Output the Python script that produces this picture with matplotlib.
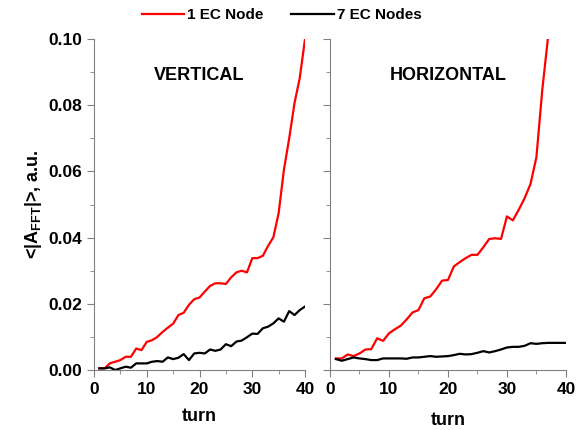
import numpy as np
import matplotlib.pyplot as plt

plt.rcParams['font.family'] = ['Liberation Sans', 'DejaVu Sans']
plt.rcParams['font.weight'] = 'bold'
plt.rcParams['axes.labelweight'] = 'bold'
plt.rcParams['mathtext.fontset'] = 'custom'
plt.rcParams['mathtext.rm'] = 'Liberation Sans:bold'
plt.rcParams['mathtext.bf'] = 'Liberation Sans:bold'

turns = np.arange(1, 41)

# vertical plane
vert_1ec = [0.0005, 0.0005, 0.002, 0.0025, 0.003, 0.004, 0.004, 0.0065, 0.006, 0.0085,
            0.009, 0.010, 0.0115, 0.0128, 0.014, 0.0166, 0.0173, 0.0197, 0.0214, 0.0219,
            0.0237, 0.0254, 0.0262, 0.0262, 0.026, 0.028, 0.0295, 0.030, 0.0295, 0.0338,
            0.0338, 0.0345, 0.0375, 0.0401, 0.0474, 0.0605, 0.070, 0.0806, 0.0882, 0.100]
vert_7ec = [0.0005, 0.0005, 0.0008, 0.0, 0.0005, 0.001, 0.0007, 0.002, 0.002, 0.002,
            0.0025, 0.0027, 0.0025, 0.0038, 0.0033, 0.0037, 0.0048, 0.003, 0.005, 0.0052,
            0.005, 0.0062, 0.0058, 0.0062, 0.0078, 0.0072, 0.0086, 0.0089, 0.0099, 0.011,
            0.0109, 0.0126, 0.0131, 0.0141, 0.0156, 0.0146, 0.0178, 0.0166, 0.0181, 0.0192]

# horizontal plane (1 EC node runs off the top after turn 37)
horz_turns_1ec = np.arange(1, 38)
horz_1ec = [0.0035, 0.0035, 0.0047, 0.0042, 0.005, 0.0062, 0.0063, 0.0096, 0.0088, 0.0111,
            0.0123, 0.0134, 0.0153, 0.0174, 0.0181, 0.0217, 0.0222, 0.0244, 0.027, 0.0272,
            0.0313, 0.0326, 0.0338, 0.0348, 0.0348, 0.0371, 0.0396, 0.0398, 0.0396, 0.0464,
            0.0452, 0.0484, 0.0519, 0.0562, 0.0643, 0.0847, 0.101]
horz_7ec = [0.0033, 0.0028, 0.0033, 0.0038, 0.0035, 0.0033, 0.003, 0.003, 0.0035, 0.0035,
            0.0035, 0.0035, 0.0034, 0.0038, 0.0038, 0.004, 0.0042, 0.004, 0.0041, 0.0042,
            0.0045, 0.0049, 0.0047, 0.0048, 0.0052, 0.0057, 0.0053, 0.0057, 0.0062, 0.0068,
            0.007, 0.007, 0.0073, 0.0081, 0.0079, 0.0081, 0.0082, 0.0082, 0.0082, 0.0082]

fig = plt.figure(figsize=(5.81, 4.30), dpi=100)
ax1 = fig.add_axes([0.1618, 0.1395, 0.3632, 0.7698])
ax2 = fig.add_axes([0.568, 0.1395, 0.406, 0.7698])

l1, = ax1.plot(turns, vert_1ec, color='#ff0000', lw=1.6)
l2, = ax1.plot(turns, vert_7ec, color='black', lw=1.6)
ax2.plot(horz_turns_1ec, horz_1ec, color='#ff0000', lw=1.6)
ax2.plot(turns, horz_7ec, color='black', lw=1.6)

for ax in (ax1, ax2):
    ax.set_xlim(0, 40)
    ax.set_ylim(0, 0.10)
    ax.set_xticks([0, 10, 20, 30, 40])
    ax.set_xticks(np.arange(0, 41, 5), minor=True)
    ax.set_yticks(np.arange(0, 0.101, 0.02))
    ax.set_yticks(np.arange(0, 0.101, 0.01), minor=True)
    for s in ['top', 'right']:
        ax.spines[s].set_visible(False)
    for s in ['left', 'bottom']:
        ax.spines[s].set_color('#808080')
        ax.spines[s].set_linewidth(0.8)
    ax.tick_params(which='both', direction='out', color='#808080', labelsize=12.5)
    ax.tick_params(which='major', length=5)
    ax.tick_params(which='minor', length=3)

ax1.yaxis.set_major_formatter(plt.FormatStrFormatter('%.2f'))
ax2.tick_params(axis='y', labelleft=False)

ax1.set_xlabel('turn', fontsize=13, labelpad=8)
ax2.set_xlabel('turn', fontsize=13, labelpad=11)
ax1.set_ylabel(r'<|A$_{\mathrm{FFT}}$|>, a.u.', fontsize=13, labelpad=3)

ax1.text(0.5, 0.89, 'VERTICAL', transform=ax1.transAxes, ha='center', va='center',
         fontsize=13, fontweight='bold')
ax2.text(0.5, 0.89, 'HORIZONTAL', transform=ax2.transAxes, ha='center', va='center',
         fontsize=13, fontweight='bold')

fig.legend([l1, l2], ['1 EC Node', '7 EC Nodes'], loc='center', bbox_to_anchor=(0.485, 0.965),
           ncol=2, frameon=False, fontsize=11, handlelength=2.8, handletextpad=0.2,
           columnspacing=1.8)

fig.savefig('out.png', dpi=100)
